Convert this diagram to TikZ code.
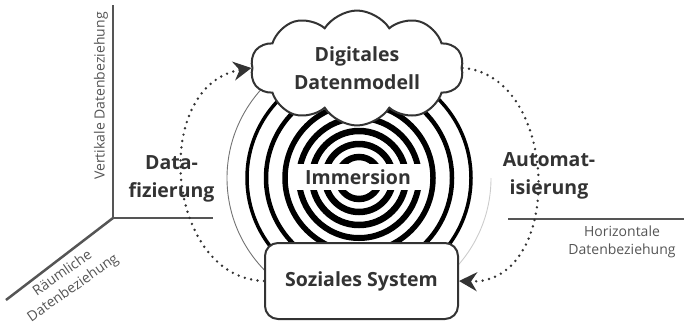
\documentclass[tikz,border=0pt]{standalone}
\usepackage{fontspec}
\setmainfont{Open Sans}
\usetikzlibrary{shapes.symbols,arrows.meta}
\definecolor{ink}{HTML}{333333}
\definecolor{axisc}{HTML}{555555}
\begin{document}
\begin{tikzpicture}[x=1pt,y=-1pt,
  boldlbl/.style={font=\bfseries\fontsize{19.5}{28}\selectfont, text=ink, align=center},
  axislbl/.style={font=\fontsize{14}{18}\selectfont, text=axisc, align=center},
  axisline/.style={draw=axisc, line width=2.5pt},
  flow/.style={draw=ink, line width=2.7pt, dash pattern=on 0pt off 6.5pt, line cap=round},
  flowtip/.style={-{Stealth[length=18pt,width=19pt,inset=6pt]}},
  frame/.style={draw=ink, line width=2pt, fill=white}
]
\useasboundingbox (0,0) rectangle (684,327);
% axes
\coordinate (o) at (113,218);
\coordinate (vt) at (113,5);
\coordinate (ht) at (213,218);
\coordinate (dt) at (6,300);
\coordinate (rl) at (508,219);
\coordinate (rr) at (684,219);
\draw[axisline] (vt) -- (o) -- (ht);
\draw[axisline] (o) -- (dt);
\draw[axisline] (rl) -- (rr);
\node[axislbl, rotate=90] (vl) at (101,96) {Vertikale Datenbeziehung};
\node[axislbl, rotate=35] (rlb) at (68,281) {Räumliche\\Datenbeziehung};
\node[axislbl] (hl) at (622,242) {Horizontale\\Datenbeziehung};
% thin outer circle
\draw[gray!40, line width=0.9pt] (359,178) ++(0:132) arc[start angle=0, end angle=90, radius=132];
\draw[gray!90!black, line width=0.9pt] (359,178) ++(90:132) arc[start angle=90, end angle=232, radius=132];
% rings
\foreach \r/\w in {21/6.5,34/6.5,47/6.5,60/6,74/5.5,93/4.5,112/3.5}
  \draw[line width=\w pt] (359,178) circle[radius=\r];
\fill[white] (295,164) rectangle (423,190);
\node[boldlbl] (im) at (358,177) {Immersion};
% main nodes
\node[cloud, frame, cloud puffs=10, cloud puff arc=115, aspect=2,
      minimum width=213pt, minimum height=110pt, inner sep=0pt, boldlbl] (dm) at (357,68) {Digitales\\Datenmodell};
\node[frame, rounded corners=13pt, minimum width=193pt, minimum height=76pt, boldlbl] (ss) at (361.5,281) {Soziales System};
\node[boldlbl] (df) at (171.5,179) {Data-\\fizierung};
\node[boldlbl] (am) at (549,176) {Automat-\\isierung};
% flows
\draw[flow, flowtip] (ss.west) .. controls (165,278) and (150,85) .. (dm.west);
\draw[flow, flowtip] (dm.east) .. controls (560,75) and (565,285) .. (ss.east);
\end{tikzpicture}
\end{document}
